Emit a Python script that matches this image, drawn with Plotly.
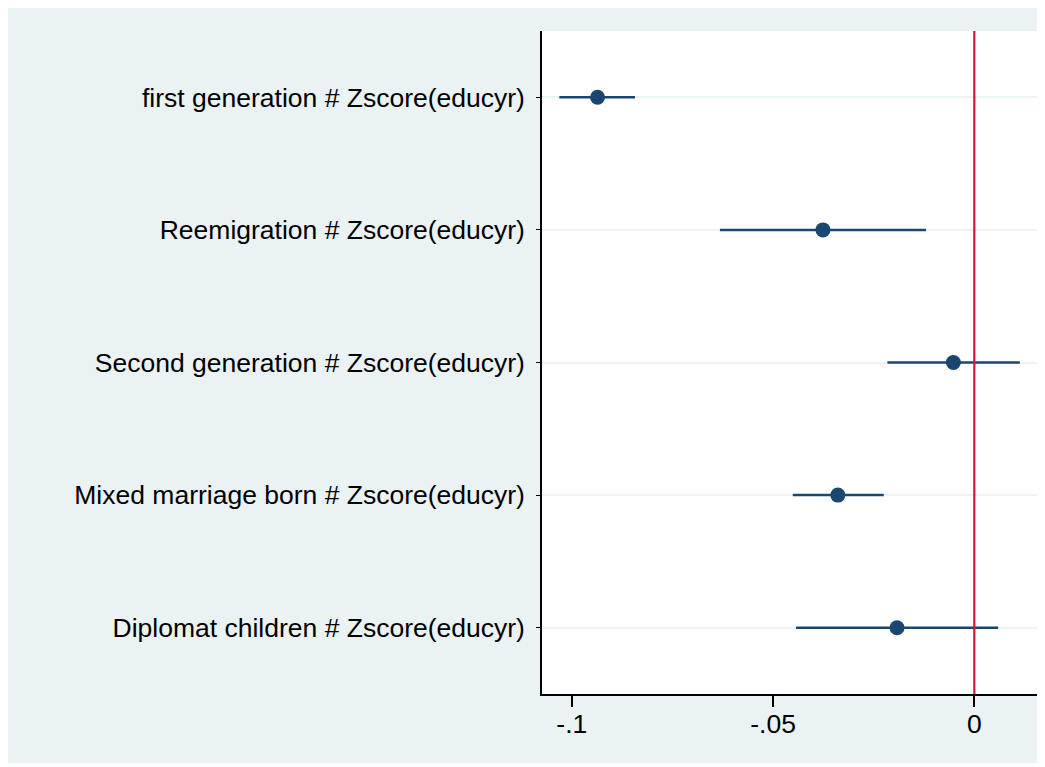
import plotly.graph_objects as go

labels = [
    "first generation # Zscore(educyr)",
    "Reemigration # Zscore(educyr)",
    "Second generation # Zscore(educyr)",
    "Mixed marriage born # Zscore(educyr)",
    "Diplomat children # Zscore(educyr)",
]
estimates = [-0.0936, -0.0376, -0.0052, -0.0339, -0.0192]
ci_low = [-0.1031, -0.0632, -0.0216, -0.0451, -0.0443]
ci_high = [-0.0843, -0.0120, 0.0113, -0.0225, 0.0059]
xtick_vals = [-0.1, -0.05, 0]
xtick_text = ["-.1", "-.05", "0"]

positions = list(range(1, len(labels) + 1))
navy = "#1A476F"
bg = "#EAF2F3"

fig = go.Figure()
fig.add_trace(go.Scatter(
    x=estimates, y=positions, mode="markers",
    marker=dict(color=navy, size=15),
    error_x=dict(type="data", symmetric=False,
                 array=[h - e for h, e in zip(ci_high, estimates)],
                 arrayminus=[e - l for e, l in zip(estimates, ci_low)],
                 color=navy, thickness=2.5, width=0),
    showlegend=False,
))

W, H = 1033, 755
L, R, T, B = 534, 4, 23, 69

shapes = [
    dict(type="line", xref="x", yref="paper", x0=0, x1=0, y0=0, y1=1,
         line=dict(color="#D2163F", width=2.2), layer="above"),
]

fig.update_layout(
    width=W, height=H,
    margin=dict(l=L, r=R, t=T, b=B),
    paper_bgcolor=bg, plot_bgcolor="white",
    font=dict(family="Liberation Sans, Arial, sans-serif", size=26.5, color="black"),
    shapes=shapes,
    xaxis=dict(range=[-0.1074, 0.01557], tickvals=xtick_vals, ticktext=xtick_text,
               showgrid=False, zeroline=False, showline=True, linecolor="black",
               linewidth=1.5, ticks="outside", ticklen=11, tickwidth=1.5,
               tickcolor="black", ticklabelstandoff=-6, tickfont=dict(size=26.5)),
    yaxis=dict(range=[5.5, 0.5], tickvals=positions, ticktext=labels,
               showgrid=True, gridcolor=bg, gridwidth=2, zeroline=False,
               showline=True, linecolor="black", linewidth=1.5,
               ticks="outside", ticklen=4, tickwidth=1, tickcolor="black",
               ticklabelstandoff=6, tickfont=dict(size=26.5)),
)

fig.write_html("out.html")
